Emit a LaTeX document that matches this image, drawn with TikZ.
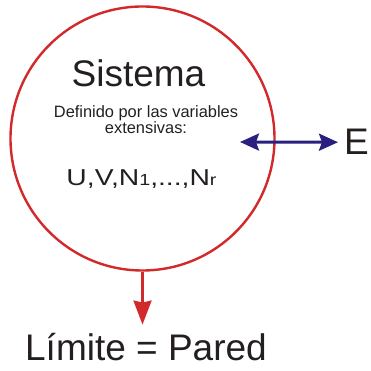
\documentclass[tikz,border=0pt]{standalone}
\usepackage{fontspec}
\setmainfont{Liberation Sans}
\usepackage{tikz}
\usetikzlibrary{arrows.meta,positioning,calc}
\definecolor{pared}{HTML}{D2292B}
\definecolor{flujo}{HTML}{2A2080}
\definecolor{tinta}{HTML}{231F20}
\newcommand{\fs}[1]{\fontsize{#1}{#1}\selectfont}
\tikzset{
  txt/.style={inner sep=0pt, text=tinta, anchor=base},
  redarr/.style={-{Stealth[length=24pt,width=18pt,inset=2pt]}, line width=2.6pt, draw=pared},
  bluearr/.style={{Stealth[length=19pt,width=17pt,inset=3pt]}-{Stealth[length=19pt,width=17pt,inset=3pt]},
                  line width=3pt, draw=flujo},
}
\begin{document}
\begin{tikzpicture}[x=1pt,y=1pt]
  \useasboundingbox (0,0) rectangle (370,371);
  % el sistema y su pared
  \node[circle, draw=pared, line width=2.4pt, minimum size=264pt, inner sep=0pt] (lim) at (142.5,232.5) {};
  \node[txt, font=\fs{37}] (sis) at (138.5,284) {Sistema};
  \node[txt, font=\fs{16.4}, align=center] (def) at (146,237)
    {Definido por las variables\\ extensivas:};
  \node[txt, font=\fs{23}, xscale=1.23, transform shape] (var) at (141.5,185)
    {U,V,N{\fs{16}1},...,N{\fs{16}r}};
  % entorno
  \node[txt, font=\fs{37}, anchor=base west] (E) at (344,216) {E};
  \coordinate (ein) at (240,229);
  \draw[bluearr, shorten >=6pt] (ein) -- (E.west);
  % limite
  \node[txt, font=\fs{37}] (limite) at (146,10) {Límite = Pared};
  \draw[redarr, shorten >=9pt] (lim.south) -- (lim.south |- limite.north);
\end{tikzpicture}
\end{document}
